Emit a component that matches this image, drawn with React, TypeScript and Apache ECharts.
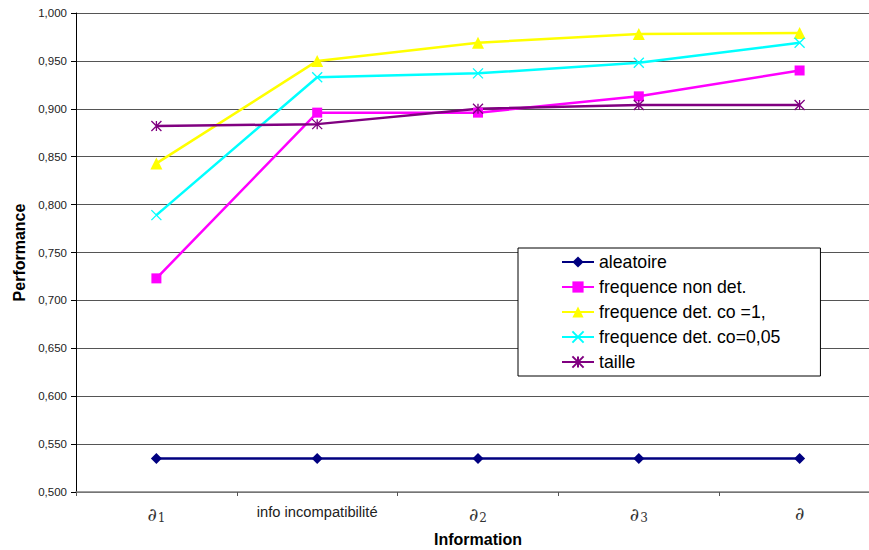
import React, { useEffect, useRef } from "react";
import * as echarts from "echarts";

const categories = ["d1", "info", "d2", "d3", "d"];
const aleatoire = [0.535, 0.535, 0.535, 0.535, 0.535];
const freqNonDet = [0.723, 0.896, 0.896, 0.913, 0.94];
const freqDetCo1 = [0.843, 0.95, 0.969, 0.978, 0.979];
const freqDetCo005 = [0.789, 0.933, 0.937, 0.948, 0.969];
const taille = [0.882, 0.884, 0.9, 0.904, 0.904];

const labelMap: Record<string, string> = {
  d1: "{d|∂}{s|1}",
  info: "{t|info incompatibilité}",
  d2: "{d|∂}{s|2}",
  d3: "{d|∂}{s|3}",
  d: "{d|∂}",
};

const crossPath = "path://M0,0L10,10M10,0L0,10";
const starPath = "path://M0,0L10,10M10,0L0,10M5,0L5,10";

export default function App() {
  const ref = useRef<HTMLDivElement>(null);
  useEffect(() => {
    if (!ref.current) return;
    const chart = echarts.init(ref.current, undefined, { renderer: "svg" });
    const font = "Liberation Sans, Arial, sans-serif";
    const mk = (name: string, data: number[], color: string, symbol: string, size: number, stroke: boolean) => ({
      name,
      type: "line",
      data,
      symbol,
      symbolSize: size,
      lineStyle: { color, width: 2.5 },
      itemStyle: stroke
        ? { color: "rgba(0,0,0,0)", borderColor: color, borderWidth: 1.3 }
        : { color, borderWidth: 0 },
      emphasis: { disabled: true },
    });
    chart.setOption({
      animation: false,
      backgroundColor: "#ffffff",
      textStyle: { fontFamily: font },
      grid: {
        left: 76,
        top: 13,
        width: 804,
        height: 479,
        containLabel: false,
        outerBoundsMode: "none",
      },
      legend: {
        show: true,
        orient: "vertical",
        left: 518,
        top: 248,
        padding: [5, 40, 5, 43],
        itemGap: 7,
        itemWidth: 32,
        itemHeight: 14,
        backgroundColor: "#ffffff",
        borderColor: "#000000",
        borderWidth: 1,
        textStyle: { fontFamily: font, fontSize: 17.7, lineHeight: 18, color: "#000" },
        data: [
          "aleatoire",
          "frequence non det.",
          "frequence det. co =1,",
          "frequence det. co=0,05",
          "taille",
        ],
      },
      xAxis: {
        type: "category",
        data: categories,
        boundaryGap: true,
        name: "Information",
        nameLocation: "middle",
        nameGap: 39,
        nameTextStyle: { fontFamily: font, fontSize: 16, fontWeight: "bold", color: "#000" },
        axisLine: { show: true, lineStyle: { color: "#808080", width: 1.5 } },
        axisTick: { show: true, alignWithLabel: false, length: 4, lineStyle: { color: "#555" } },
        axisLabel: {
          margin: 12,
          formatter: (v: string) => labelMap[v],
          rich: {
            d: { fontFamily: "DejaVu Serif, serif", fontSize: 18, color: "#333" },
            s: { fontFamily: "DejaVu Serif, serif", fontSize: 12, color: "#333", padding: [8, 0, 0, 1] },
            t: { fontFamily: font, fontSize: 14.7, color: "#222" },
          },
        },
        splitLine: { show: false },
      },
      yAxis: {
        type: "value",
        min: 0.5,
        max: 1.0,
        interval: 0.05,
        name: "Performance",
        nameLocation: "middle",
        nameRotate: 90,
        nameGap: 48,
        nameTextStyle: { fontFamily: font, fontSize: 16, fontWeight: "bold", color: "#000" },
        axisLine: { show: true, lineStyle: { color: "#000", width: 1 } },
        axisTick: { show: true, inside: false, length: 5, lineStyle: { color: "#000" } },
        axisLabel: {
          margin: 9,
          fontFamily: font,
          fontSize: 11.5,
          color: "#222",
          formatter: (v: number) => v.toFixed(3).replace(".", ","),
        },
        splitLine: { show: true, lineStyle: { color: "#555", width: 1 } },
      },
      series: [
        mk("aleatoire", aleatoire, "#000080", "diamond", 11, false),
        mk("frequence non det.", freqNonDet, "#FF00FF", "rect", 10, false),
        mk("frequence det. co =1,", freqDetCo1, "#FFFF00", "triangle", 12, false),
        mk("frequence det. co=0,05", freqDetCo005, "#00FFFF", crossPath, 10, true),
        mk("taille", taille, "#800080", starPath, 10, true),
      ],
    });
    return () => chart.dispose();
  }, []);
  return (
    <div
      ref={ref}
      style={{ position: "absolute", left: 0, top: 0, width: 869, height: 550 }}
    />
  );
}
